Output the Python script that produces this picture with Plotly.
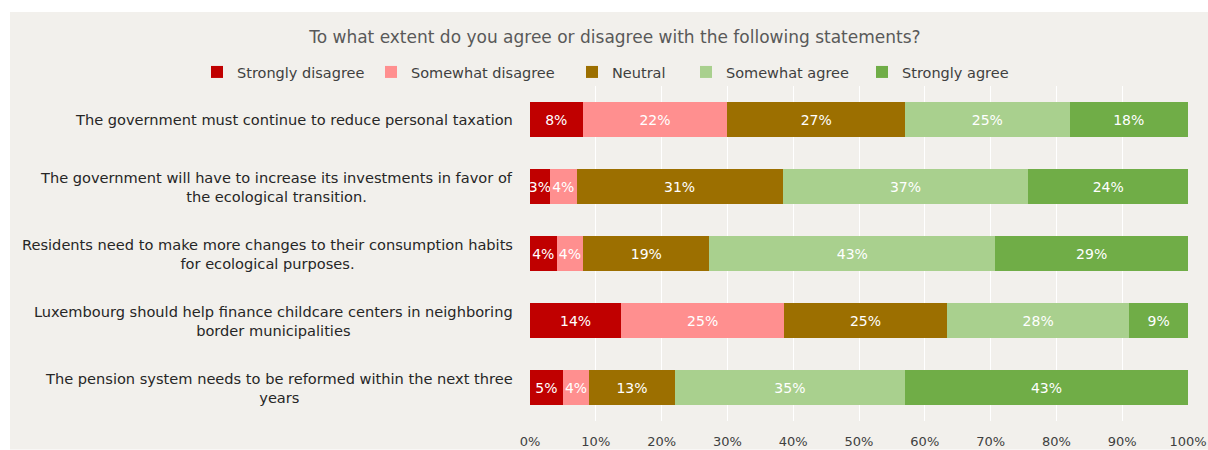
import plotly.graph_objects as go

statements = [
    "The government must continue to reduce personal taxation",
    "The government will have to increase its investments in favor of<br>the ecological transition.",
    "Residents need to make more changes to their consumption habits<br>for ecological purposes.",
    "Luxembourg should help finance childcare centers in neighboring<br>border municipalities",
    "The pension system needs to be reformed within the next three<br>years",
]
row_ids = ["s1", "s2", "s3", "s4", "s5"]

strongly_disagree = [8, 3, 4, 14, 5]
somewhat_disagree = [22, 4, 4, 25, 4]
neutral = [27, 31, 19, 25, 13]
somewhat_agree = [25, 37, 43, 28, 35]
strongly_agree = [18, 24, 29, 9, 43]

series = [
    ("Strongly disagree", strongly_disagree, "#C00000"),
    ("Somewhat disagree", somewhat_disagree, "#FF8F8F"),
    ("Neutral", neutral, "#9C6F00"),
    ("Somewhat agree", somewhat_agree, "#A9D08E"),
    ("Strongly agree", strongly_agree, "#70AD47"),
]

tick_vals = [0, 10, 20, 30, 40, 50, 60, 70, 80, 90, 100]
tick_text = [f"{v}%" for v in tick_vals]

FONT = "DejaVu Sans"
BG = "#F2F0EC"

# plot area in pixels
L, R, T, B = 530, 20, 86, 28.5
W, H = 1208, 450
PW, PH = W - L - R, H - T - B

# left edge (px) of each legend entry along the legend row
legend_left_px = [197, 371, 572, 686, 862]
legend_row_px = 72

fig = go.Figure()
legend_layouts = {}
for i, (name, vals, color) in enumerate(series):
    lg = "legend" if i == 0 else f"legend{i + 1}"
    fig.add_trace(go.Bar(
        name=name,
        y=row_ids,
        x=vals,
        orientation="h",
        legend=lg,
        marker=dict(color=color, line=dict(width=0)),
        text=[f"{v}%" for v in vals],
        textposition="inside",
        insidetextanchor="middle",
        textangle=0,
        textfont=dict(family=FONT, size=14, color="white"),
    ))
    legend_layouts[lg] = dict(
        orientation="h",
        x=(legend_left_px[i] - L) / PW, xanchor="left",
        y=1 + (H - B - legend_row_px - PH) / PH, yanchor="middle",
        bgcolor="rgba(0,0,0,0)",
        font=dict(family=FONT, size=14.5, color="#404040"),
        itemwidth=30,
    )

# statement labels, centred line by line, right of the label block at the axis
for rid, label in zip(row_ids, statements):
    fig.add_annotation(
        x=-15 / PW, xref="paper", y=rid, yref="y",
        text=label, showarrow=False,
        xanchor="right", yanchor="middle", align="center",
        font=dict(family=FONT, size=14.6, color="#262626"),
    )

fig.update_layout(
    width=W, height=H,
    margin=dict(l=L, r=R, t=T, b=B, pad=0),
    paper_bgcolor="white",
    plot_bgcolor=BG,
    barmode="stack",
    barnorm="percent",
    bargap=0.48,
    uniformtext=dict(minsize=14, mode="show"),
    title=dict(
        text="To what extent do you agree or disagree with the following statements?",
        x=0.509, xref="container", xanchor="center",
        y=1 - 37 / H, yref="container", yanchor="middle",
        font=dict(family=FONT, size=17, color="#595959"),
    ),
    xaxis=dict(
        range=[0, 100], tickvals=tick_vals, ticktext=tick_text,
        showgrid=True, gridcolor="white", gridwidth=1,
        zeroline=False, showline=False, ticks="",
        ticklabeloverflow="allow", ticklabelstandoff=11,
        tickfont=dict(family=FONT, size=13, color="#404040"),
        fixedrange=True, automargin=False,
    ),
    yaxis=dict(
        autorange="reversed", showticklabels=False,
        showgrid=False, zeroline=False, showline=False, ticks="",
        fixedrange=True, automargin=False,
    ),
    showlegend=True,
    shapes=[dict(
        type="rect", xref="paper", yref="paper",
        x0=(10 - L) / PW, x1=1 + R / PW, y0=-B / PH, y1=1 + (T - 12) / PH,
        fillcolor=BG, line=dict(width=0), layer="below",
    )],
    **legend_layouts,
)

fig.write_html("out.html")
